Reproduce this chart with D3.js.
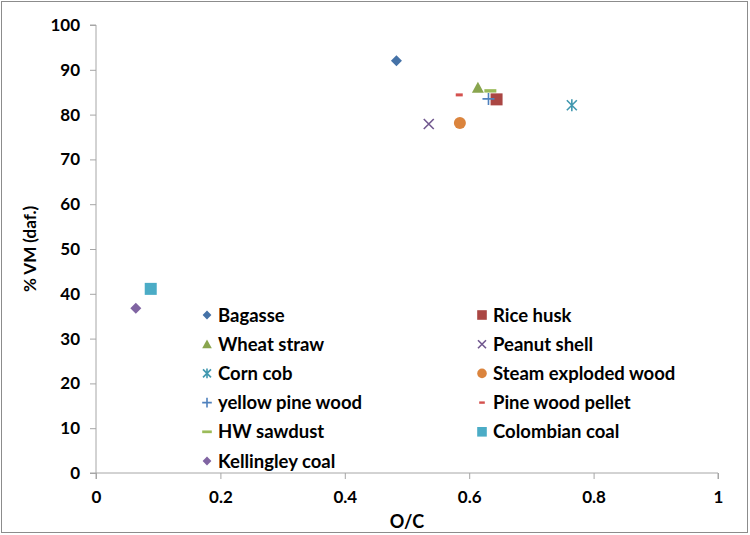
<!DOCTYPE html>
<html><head><meta charset="utf-8">
<script src="https://cdn.jsdelivr.net/npm/d3@7"></script>
<style>body{margin:0;background:#fff}svg{display:block}text{font-family:Lato,"Open Sans",sans-serif;font-weight:bold}</style>
</head><body><svg id="c" width="750" height="535"></svg>
<script>
const series = ["Bagasse","Rice husk","Wheat straw","Peanut shell","Corn cob","Steam exploded wood","yellow pine wood","Pine wood pellet","HW sawdust","Colombian coal","Kellingley coal"];
const oc = [0.483,0.644,0.614,0.535,0.765,0.585,0.631,0.584,0.634,0.088,0.064];
const vm = [92.0,83.4,86.0,77.9,82.1,78.1,83.5,84.4,85.3,41.1,36.8];
const symbolsKind = ["diamond","square","triangle","x","star","circle","plus","dashRed","dashGreen","square","diamond"];
const colors = ["#4572A7","#AA4643","#89A54E","#71588F","#4198AF","#DB843D","#4F81BD","#D4514E","#9BBB59","#4BACC6","#8064A2"];
const xTicks = [0,0.2,0.4,0.6,0.8,1];
const yTicks = [0,10,20,30,40,50,60,70,80,90,100];

const svg = d3.select("#c");
svg.append("rect").attr("x",1.5).attr("y",1.5).attr("width",746).attr("height",531).attr("fill","#fff").attr("stroke","#8c8c8c").attr("stroke-width",1);

const x = d3.scaleLinear().domain([0,1]).range([96,718]);
const y = d3.scaleLinear().domain([0,100]).range([473,25]);

const xa = svg.append("g").attr("transform","translate(0,473)").call(d3.axisBottom(x).tickValues(xTicks).tickFormat(d=>String(d)).tickSize(6).tickPadding(12));
const ya = svg.append("g").attr("transform","translate(96,0)").call(d3.axisLeft(y).tickValues(yTicks).tickSize(6).tickPadding(10));
[xa,ya].forEach(a=>{
  a.selectAll("path,line").attr("stroke","#a6a6a6");
  a.selectAll("text").attr("fill","#000").style("font-size","17px");
});
xa.select(".domain").attr("d","M96,6V0H718V6");
ya.select(".domain").attr("d","M-6,25H0V473H-6");

svg.append("text").attr("x",407).attr("y",528).attr("text-anchor","middle").style("font-size","18px").text("O/C");
svg.append("text").attr("transform","translate(36,249) rotate(-90)").attr("text-anchor","middle").style("font-size","17px").text("% VM (daf.)");

function marker(g, kind, color, s){
  if(kind==="diamond") g.append("path").attr("d",`M0,${-5.5*s}L${5.5*s},0L0,${5.5*s}L${-5.5*s},0Z`).attr("fill",color);
  else if(kind==="square") g.append("rect").attr("x",-6*s).attr("y",-6*s).attr("width",12*s).attr("height",12*s).attr("fill",color);
  else if(kind==="triangle") g.append("path").attr("d",`M0,${-6*s}L${6*s},${5*s}L${-6*s},${5*s}Z`).attr("fill",color);
  else if(kind==="circle") g.append("circle").attr("r",6*s).attr("fill",color);
  else if(kind==="x") g.append("path").attr("d",`M${-5*s},${-5*s}L${5*s},${5*s}M${5*s},${-5*s}L${-5*s},${5*s}`).attr("stroke",color).attr("stroke-width",1.6);
  else if(kind==="plus") g.append("path").attr("d",`M${-6*s},0H${6*s}M0,${-6*s}V${6*s}`).attr("stroke",color).attr("stroke-width",1.6);
  else if(kind==="star") g.append("path").attr("d",`M${-5*s},${-5*s}L${5*s},${5*s}M${5*s},${-5*s}L${-5*s},${5*s}M0,${-6*s}V${6*s}`).attr("stroke",color).attr("stroke-width",1.6);
  else if(kind==="dashRed") g.append("rect").attr("x",-3.5*s).attr("y",-1.5*s).attr("width",7*s).attr("height",3*s).attr("fill",color);
  else if(kind==="dashGreen") g.append("rect").attr("x",-6*s).attr("y",-1.7*s).attr("width",12*s).attr("height",3.4*s).attr("fill",color);
}

series.forEach((name,i)=>{
  const g = svg.append("g").attr("transform",`translate(${x(oc[i])},${y(vm[i])})`);
  marker(g, symbolsKind[i], colors[i], 1);
});

const leg = svg.append("g");
series.forEach((name,i)=>{
  const col = i%2, row = Math.floor(i/2);
  const mx = col===0 ? 207 : 482, my = 315 + row*29.2;
  const g = leg.append("g").attr("transform",`translate(${mx},${my})`);
  marker(g, symbolsKind[i], colors[i], 0.8);
  leg.append("text").attr("x",mx+11).attr("y",my).attr("dy","0.36em").style("font-size","18.5px").text(name);
});
</script></body></html>
